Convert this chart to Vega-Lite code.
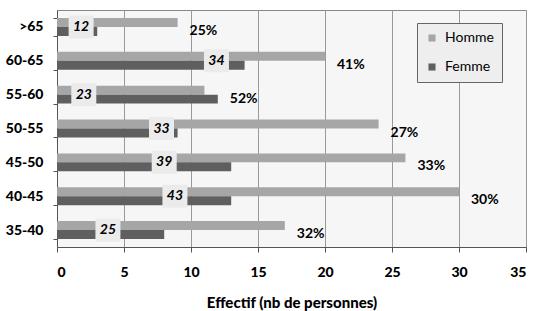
{
  "$schema": "https://vega.github.io/schema/vega-lite/v6.json",
  "width": 469,
  "height": 237,
  "autosize": "none",
  "padding": {"left": 57, "top": 10, "right": 9, "bottom": 64},
  "background": "white",
  "config": {
    "view": {"fill": "#f6f6f6", "stroke": "#888888", "strokeWidth": 1},
    "font": "Lato"
  },
  "datasets": {
    "bars": [
      {"age": ">65", "sexe": "Homme", "n": 9},
      {"age": ">65", "sexe": "Femme", "n": 3},
      {"age": "60-65", "sexe": "Homme", "n": 20},
      {"age": "60-65", "sexe": "Femme", "n": 14},
      {"age": "55-60", "sexe": "Homme", "n": 11},
      {"age": "55-60", "sexe": "Femme", "n": 12},
      {"age": "50-55", "sexe": "Homme", "n": 24},
      {"age": "50-55", "sexe": "Femme", "n": 9},
      {"age": "45-50", "sexe": "Homme", "n": 26},
      {"age": "45-50", "sexe": "Femme", "n": 13},
      {"age": "40-45", "sexe": "Homme", "n": 30},
      {"age": "40-45", "sexe": "Femme", "n": 13},
      {"age": "35-40", "sexe": "Homme", "n": 17},
      {"age": "35-40", "sexe": "Femme", "n": 8}
    ],
    "labels": [
      {"age": ">65", "total": 12, "pct": "25%", "labelX": 1.8},
      {"age": "60-65", "total": 34, "pct": "41%", "labelX": 11.9},
      {"age": "55-60", "total": 23, "pct": "52%", "labelX": 2.0},
      {"age": "50-55", "total": 33, "pct": "27%", "labelX": 7.8},
      {"age": "45-50", "total": 39, "pct": "33%", "labelX": 8.0},
      {"age": "40-45", "total": 43, "pct": "30%", "labelX": 8.8},
      {"age": "35-40", "total": 25, "pct": "32%", "labelX": 3.8}
    ]
  },
  "layer": [
    {
      "data": {"name": "bars"},
      "mark": {"type": "bar"},
      "encoding": {
        "y": {
          "field": "age",
          "type": "nominal",
          "sort": [">65", "60-65", "55-60", "50-55", "45-50", "40-45", "35-40"],
          "scale": {"paddingInner": 0.47, "paddingOuter": 0.235},
          "axis": {
            "title": null,
            "labelFontSize": 14,
            "labelFontWeight": 900,
            "labelColor": "black",
            "labelPadding": 10,
            "tickSize": 4,
            "tickColor": "#555555",
            "tickBand": "extent",
            "domainColor": "#555555",
            "grid": false
          }
        },
        "yOffset": {"field": "sexe", "sort": ["Homme", "Femme"]},
        "x": {
          "field": "n",
          "type": "quantitative",
          "scale": {"domain": [0, 35], "nice": false},
          "axis": {
            "values": [0, 5, 10, 15, 20, 25, 30, 35],
            "title": "Effectif (nb de personnes)",
            "titleFontSize": 15,
            "titleFontWeight": 900,
            "titleColor": "black",
            "titlePadding": 16,
            "labelFontSize": 14,
            "labelFontWeight": 900,
            "labelColor": "black",
            "labelPadding": 13,
            "tickSize": 5,
            "tickColor": "#555555",
            "domainColor": "#555555",
            "grid": true,
            "gridColor": "#999999",
            "gridOpacity": 1
          }
        },
        "color": {
          "field": "sexe",
          "type": "nominal",
          "sort": ["Homme", "Femme"],
          "scale": {"domain": ["Homme", "Femme"], "range": ["#a6a6a6", "#5f5f5f"]},
          "legend": {
            "orient": "none",
            "legendX": 360,
            "legendY": 13,
            "title": null,
            "fillColor": "#eeeeee",
            "strokeColor": "#666666",
            "padding": 8,
            "symbolType": "square",
            "symbolSize": 50,
            "symbolStrokeWidth": 0,
            "labelFontSize": 14,
            "labelColor": "black",
            "labelOffset": 6,
            "rowPadding": 15
          }
        }
      }
    },
    {
      "data": {"name": "labels"},
      "mark": {"type": "point", "shape": "M-1.087,-1H1.087V1H-1.087Z", "size": 529, "filled": true, "color": "#ebebeb", "opacity": 1},
      "encoding": {
        "y": {"field": "age", "type": "nominal", "sort": [">65", "60-65", "55-60", "50-55", "45-50", "40-45", "35-40"]},
        "x": {"field": "labelX", "type": "quantitative"}
      }
    },
    {
      "data": {"name": "labels"},
      "mark": {"type": "text", "fontWeight": "bold", "fontStyle": "italic", "fontSize": 14, "color": "black"},
      "encoding": {
        "y": {"field": "age", "type": "nominal", "sort": [">65", "60-65", "55-60", "50-55", "45-50", "40-45", "35-40"]},
        "x": {"field": "labelX", "type": "quantitative"},
        "text": {"field": "total", "type": "nominal"}
      }
    },
    {
      "data": {"name": "bars"},
      "transform": [
        {"lookup": "age", "from": {"data": {"name": "labels"}, "key": "age", "fields": ["pct"]}}
      ],
      "mark": {"type": "text", "fontWeight": "bold", "fontSize": 14, "color": "black", "align": "left", "dx": 12, "dy": 4},
      "encoding": {
        "y": {"field": "age", "type": "nominal", "sort": [">65", "60-65", "55-60", "50-55", "45-50", "40-45", "35-40"]},
        "x": {"aggregate": "max", "field": "n", "type": "quantitative"},
        "text": {"field": "pct", "type": "nominal"}
      }
    }
  ]
}
